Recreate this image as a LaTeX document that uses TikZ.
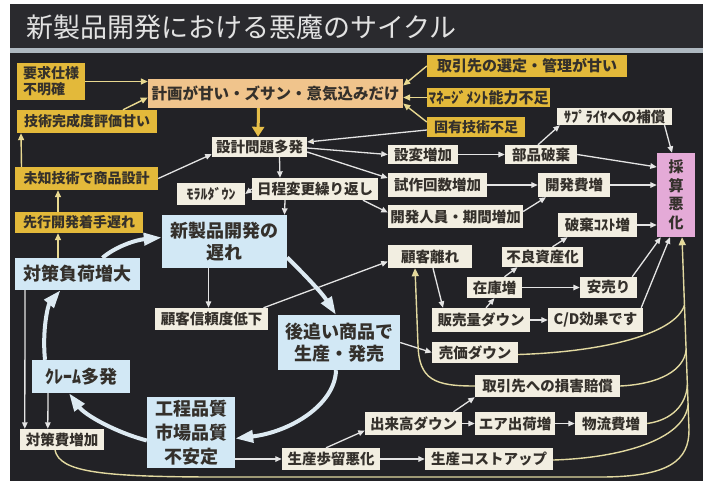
\documentclass[tikz,border=0pt]{standalone}
\usepackage{fontspec}
\setmainfont{Noto Sans CJK JP}
\usetikzlibrary{arrows.meta}
\definecolor{panelc}{HTML}{222226}
\definecolor{titlec}{HTML}{2A2A2E}
\definecolor{stripec}{HTML}{AEB8C0}
\definecolor{titletx}{HTML}{E2E2E2}
\definecolor{yelc}{HTML}{E3B93A}
\definecolor{planc}{HTML}{F0C48C}
\definecolor{creamc}{HTML}{F2EEE1}
\definecolor{bluec}{HTML}{D2E8F5}
\definecolor{pinkc}{HTML}{E4AAD7}
\definecolor{txtc}{HTML}{34302B}
\definecolor{arrc}{HTML}{E4E4E4}
\definecolor{yarc}{HTML}{E8D890}
\definecolor{garc}{HTML}{E6BE48}
\definecolor{cycc}{HTML}{DDEAF2}
\definecolor{ycurc}{HTML}{E2D9A0}
\newcommand{\fz}[2]{\fontsize{#1}{#2}\selectfont}
\tikzset{
  box/.style={inner sep=0pt, align=center, text=txtc, anchor=center},
  yel/.style={box, fill=yelc, font=\fz{14}{16}\bfseries},
  planbox/.style={box, fill=planc, font=\fz{15.5}{18}\bfseries},
  cream/.style={box, fill=creamc, font=\fz{14.5}{16}\bfseries},
  bluebox/.style={box, fill=bluec, font=\fz{18}{22}\bfseries},
  pinkbox/.style={box, fill=pinkc, font=\fz{15}{18.5}\bfseries},
  war/.style={draw=arrc, line width=1.3pt, -{Triangle[width=5.5pt,length=6.5pt]}},
  yar/.style={draw=yarc, line width=1.4pt, -{Triangle[width=6pt,length=7pt]}},
  gar/.style={draw=garc, line width=3pt, -{Triangle[width=12pt,length=10pt]}},
  cyc/.style={draw=cycc, line width=4pt, -{Triangle[width=12pt,length=18pt]}},
  ycur/.style={draw=ycurc, line width=1.4pt},
  ycurar/.style={ycur, -{Triangle[width=7pt,length=8pt,fill=yarc]}},
}
\begin{document}
\begin{tikzpicture}[x=1pt,y=-1pt]
\useasboundingbox (0,0) rectangle (711,483);
\fill[white] (0,0) rectangle (711,483);
\fill[panelc] (10,4) rectangle (703,481);
\fill[titlec] (10,4) rectangle (703,48);
\fill[stripec] (10,48) rectangle (703,53);
\node[anchor=west, inner sep=0pt, text=titletx, font=\fz{27}{30}] (title) at (26,27) {新製品開発における悪魔のサイクル};

% yellow
\node[yel, minimum width=68pt, minimum height=37pt, align=left] (req) at (51,81.5) {要求仕様\\不明確};
\node[yel, minimum width=140pt, minimum height=23pt] (tech) at (87,121.5) {技術完成度評価甘い};
\node[planbox, minimum width=255pt, minimum height=29pt] (plan) at (275.5,93.5) {計画が甘い・ズサン・意気込みだけ};
\node[yel, font=\fz{15}{17}\bfseries, minimum width=200pt, minimum height=22pt] (sup) at (527,66) {取引先の選定・管理が甘い};
\node[yel, font=\fz{15}{17}\bfseries, minimum width=123pt, minimum height=19pt] (mgmt) at (488.5,97.5) {ﾏﾈｰｼﾞﾒﾝﾄ能力不足};
\node[yel, minimum width=98pt, minimum height=20pt] (kotech) at (476,127) {固有技術不足};
\node[yel, minimum width=143pt, minimum height=23pt] (unk) at (86.5,178.5) {未知技術で商品設計};
\node[yel, minimum width=128pt, minimum height=21pt] (pre) at (79,222.5) {先行開発着手遅れ};

% cream
\node[cream, minimum width=95pt, minimum height=20pt] (design) at (259.5,147) {設計問題多発};
\node[cream, font=\fz{14}{15}\bfseries, minimum width=68pt, minimum height=22pt] (moral) at (211,194) {ﾓﾗﾙﾀﾞｳﾝ};
\node[cream, minimum width=126pt, minimum height=22pt] (sched) at (315,189) {日程変更繰り返し};
\node[cream, minimum width=70pt, minimum height=19pt] (chg) at (423,154.5) {設変増加};
\node[cream, minimum width=72pt, minimum height=19pt] (parts) at (541,154.5) {部品破棄};
\node[cream, minimum width=115pt, minimum height=17pt] (suppl) at (614.5,116.5) {ｻﾌﾟﾗｲﾔへの補償};
\node[cream, minimum width=99pt, minimum height=24pt] (proto) at (437.5,185) {試作回数増加};
\node[cream, minimum width=72pt, minimum height=24pt] (devcost) at (574,185) {開発費増};
\node[cream, minimum width=135pt, minimum height=23pt] (staff) at (455.5,216.5) {開発人員・期間増加};
\node[cream, minimum width=79pt, minimum height=24pt] (waste) at (597.5,225) {破棄ｺｽﾄ増};
\node[cream, minimum width=84pt, minimum height=23pt] (custloss) at (430,256.5) {顧客離れ};
\node[cream, minimum width=81pt, minimum height=20pt] (badasset) at (542.5,257) {不良資産化};
\node[cream, minimum width=55pt, minimum height=21pt] (stock) at (494.5,287.5) {在庫増};
\node[cream, minimum width=57pt, minimum height=21pt] (discount) at (608.5,287.5) {安売り};
\node[cream, minimum width=98pt, minimum height=24pt] (salesdown) at (481,320) {販売量ダウン};
\node[cream, minimum width=95pt, minimum height=24pt] (cd) at (595.5,320) {C/D効果です};
\node[cream, minimum width=86pt, minimum height=21pt] (price) at (475,352.5) {売価ダウン};
\node[cream, minimum width=145pt, minimum height=22pt] (damage) at (547.5,386) {取引先への損害賠償};
\node[cream, minimum width=97pt, minimum height=23pt] (output) at (413.5,423.5) {出来高ダウン};
\node[cream, minimum width=80pt, minimum height=23pt] (air) at (515,423.5) {エア出荷増};
\node[cream, minimum width=72pt, minimum height=23pt] (logi) at (611,423.5) {物流費増};
\node[cream, minimum width=98pt, minimum height=22pt] (yield) at (331,459) {生産歩留悪化};
\node[cream, minimum width=128pt, minimum height=22pt] (prodcost) at (489,459) {生産コストアップ};
\node[cream, minimum width=113pt, minimum height=22pt] (trust) at (211.5,319) {顧客信頼度低下};
\node[cream, minimum width=84pt, minimum height=21pt] (ctrcost) at (62,439.5) {対策費増加};

% pink
\node[pinkbox, minimum width=38pt, minimum height=84pt] (profit) at (676,195) {採\\算\\悪\\化};

% blue
\node[bluebox, minimum width=125pt, minimum height=53pt] (delay) at (224.5,241.5) {新製品開発の\\遅れ};
\node[bluebox, minimum width=125pt, minimum height=32pt] (load) at (77.5,274) {対策負荷増大};
\node[bluebox, minimum width=122pt, minimum height=55pt] (follow) at (339,342.5) {後追い商品で\\生産・発売};
\node[bluebox, minimum width=98pt, minimum height=33pt] (claim) at (81,376.5) {ｸﾚｰﾑ多発};
\node[bluebox, font=\fz{18}{24}\bfseries, minimum width=88pt, minimum height=71pt] (quality) at (191,432.5) {工程品質\\市場品質\\不安定};

% yellow arrows
\draw[yar] (req.east) -- (plan.west |- req.east);
\draw[yar] ([xshift=36pt]tech.north) -- ([yshift=-4pt]plan.west);
\draw[yar] (sup.west) -- ([yshift=8pt]plan.east);
\draw[yar] (mgmt.west) -- (plan.east |- mgmt.west);
\draw[yar] ([yshift=5pt]kotech.west) -- ([yshift=-10pt]plan.east);
\draw[gar] ([xshift=-17pt]plan.south) -- ([xshift=-1.5pt]design.north);
\draw[yar] ([xshift=-65pt]unk.north) -- ([xshift=-66pt]tech.south);
\draw[yar] ([xshift=-21pt]pre.north) -- ([xshift=-28.5pt]unk.south);
\draw[yar] ([xshift=-19.5pt]load.north) -- ([xshift=-21pt]pre.south);

% white arrows
\draw[war] (unk.east) -- ([yshift=3pt]design.south west);
\draw[war, -{Triangle[width=5.5pt,length=6.5pt,fill=yarc]}] ([yshift=-3pt]kotech.west) -- ([yshift=5pt]design.east);
\draw[war] ([yshift=-1pt]design.east) -- (chg.west);
\draw[war] ([yshift=-5pt]design.east) -- ([yshift=7pt]proto.west);
\draw[war] ([xshift=20pt]design.south) -- ([xshift=-35pt]sched.north);
\draw[war] (sched.west) -- (moral.east);
\draw[war] ([xshift=-30pt]sched.south) -- ([xshift=60pt]delay.north);
\draw[war] ([xshift=48pt]sched.south) -- ([yshift=4pt]staff.west);
\draw[war] (chg.east) -- (parts.west);
\draw[war] ([xshift=-3pt]parts.north) -- ([xshift=3pt]suppl.south west);
\draw[war] (parts.east) -- ([yshift=28pt]profit.west);
\draw[war] ([xshift=50pt]suppl.south) -- ([xshift=-4pt]profit.north);
\draw[war] (proto.east) -- (devcost.west);
\draw[war] ([yshift=5pt]staff.east) -- ([xshift=-28pt]devcost.south);
\draw[war] (devcost.east) -- (profit.west |- devcost.east);
\draw[war] (waste.east) -- (profit.west |- waste.east);
\draw[war] ([xshift=10pt]badasset.north) -- ([xshift=-30pt]waste.south);
\draw[war] ([xshift=10pt]stock.north) -- ([xshift=-25pt]badasset.south);
\draw[war] (stock.east) -- (discount.west);
\draw[war] ([xshift=5pt]salesdown.north) -- (stock.south);
\draw[war] (salesdown.east) -- (cd.west);
\draw[war] ([xshift=-5pt]discount.north east) -- ([xshift=4pt]profit.south west);
\draw[war] ([xshift=-2pt]cd.north east) -- ([xshift=-6pt]profit.south);
\draw[war] ([xshift=3pt]custloss.south) -- ([xshift=-38pt]salesdown.north);
\draw[war] ([xshift=52pt]trust.north) -- ([yshift=-5pt]custloss.west);
\draw[war] ([xshift=-16pt]delay.south) -- ([xshift=-3pt]trust.north);
\draw[war] (follow.east) -- (price.west);
\draw[war] ([yshift=-26.5pt]quality.east) -- (yield.west);
\draw[war] (yield.east) -- (prodcost.west);
\draw[war] ([xshift=-5pt]yield.north) -- ([yshift=-7pt]output.west);
\draw[war] ([xshift=40pt]output.north) -- (damage.south west);
\draw[war] (output.east) -- (air.west);
\draw[war] (air.east) -- (logi.west);
\draw[war] ([xshift=-52.5pt]load.south) -- ([xshift=5pt]ctrcost.north west);
\draw[war] ([xshift=-33pt]claim.south) -- ([xshift=28pt]ctrcost.north west);

% cycle
\draw[cyc] ([xshift=25pt]load.north) .. controls (115,247) and (135,240) .. ([yshift=4pt]delay.west);
\draw[cyc] ([yshift=-16pt]delay.east) .. controls (305,275) and (322,293) .. ([xshift=-3pt]follow.north);
\draw[cyc] ([xshift=-3pt]follow.south) .. controls (335,405) and (290,432) .. ([yshift=-6pt]quality.east);
\draw[cyc] ([yshift=-8pt]quality.west) .. controls (115,432) and (85,415) .. ([xshift=-12pt]claim.south);
\draw[cyc] ([xshift=-36pt]claim.north) .. controls (42,330) and (48,305) .. ([xshift=-17pt]load.south);

% yellow curves to profit
\coordinate (busb) at (689,430);
\draw[ycurar] (busb) -- ([xshift=6pt]profit.south);
\draw[ycur] ([xshift=-7pt]ctrcost.south) .. controls (60,472) and (100,477) .. (220,477) -- (600,477) .. controls (670,477) and (689,460) .. (busb);
\draw[ycur] ([yshift=-1pt]prodcost.east) .. controls (620,458) and (684,440) .. (688.1,405);
\draw[ycur] (logi.east) .. controls (672,420) and (686,405) .. (687.4,385);
\draw[ycur] (damage.east) .. controls (660,384) and (684,370) .. (686.1,350);
\draw[ycur] ([yshift=-2pt]price.east) .. controls (600,352) and (675,335) .. (684.5,305);
\draw[ycurar] (damage.west) .. controls (435,386) and (419,380) .. (418,345) -- ([xshift=-15pt]custloss.south);
\end{tikzpicture}
\end{document}
